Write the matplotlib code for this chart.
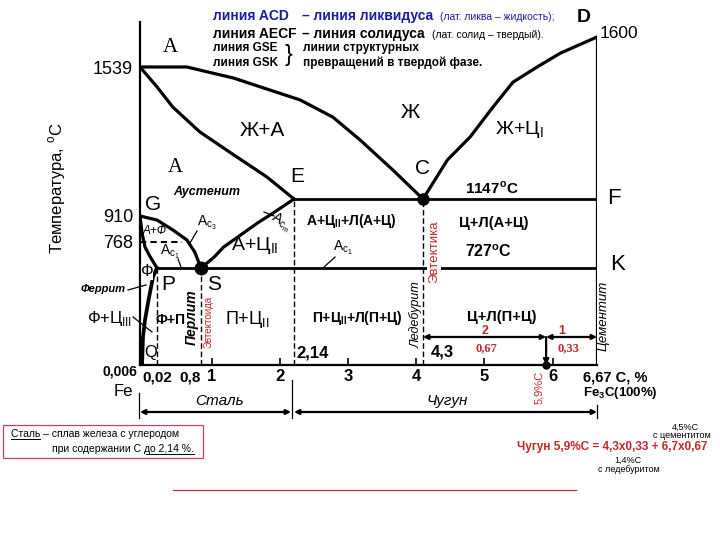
import numpy as np
import matplotlib
matplotlib.use('Agg')
import matplotlib.pyplot as plt

# Диаграмма Fe - Fe3C: содержание углерода, %  /  температура, °C
liq_AC_c = [0, 0.55, 1.32, 1.71, 2.24, 2.76, 3.18, 3.66, 4.3]
liq_AC_t = [1539, 1539, 1506, 1480, 1441, 1390, 1322, 1233, 1147]
liq_CD_c = [4.3, 4.58, 4.84, 5.13, 5.42, 5.77, 6.11, 6.67]
liq_CD_t = [1147, 1263, 1331, 1420, 1494, 1539, 1567, 1600]
sol_AE_c = [0, 0.02, 0.30, 0.78, 1.32, 1.81, 2.14]
sol_AE_t = [1539, 1480, 1420, 1346, 1278, 1212, 1147]
GS_c = [0, 0.02, 0.30, 0.55, 0.69, 0.8]
GS_t = [910, 888, 834, 779, 752, 727]
GP_c = [0, 0.0024, 0.0059, 0.0118, 0.02]
GP_t = [910, 817, 760, 745, 727]
PQ_c = [0.02, 0.0153, 0.0094, 0.0059, 0.0035, 0.0024]
PQ_t = [727, 660, 465, 337, 210, 0]
SE_c = [0.8, 1.03, 1.17, 1.42, 1.67, 1.90, 2.14]
SE_t = [727, 744, 760, 806, 872, 952, 1147]

C_P, C_S, C_E, C_C, C_K = 0.02, 0.8, 2.14, 4.3, 6.67
T_D, T_ECF, T_PSK, T_G, T_curie = 1600, 1147, 727, 910, 768
C_curie_end = 0.46
C_alloy = 5.9            # чугун 5,9 %C
T_lever = 210            # уровень отрезков рычага

x_ticks = [1, 2, 3, 4, 5, 6]
x_minor = [0.02, 0.8]
x_minor_lbl = ['0,02', '0,8']
y_ticks = [1539, 910, 768]

NARROW = ['Liberation Sans Narrow', 'Liberation Sans', 'DejaVu Sans']
SANS = ['Liberation Sans', 'DejaVu Sans']
SERIF = ['Liberation Serif', 'DejaVu Serif']
RED = '#c0282c'
BLUE = '#1c1c9c'

# схема не в масштабе - кусочно-линейные шкалы
XC = [-10, 0, 0.02, 0.8, 1, 2, 2.14, 3, 4, 4.3, 5, 6, 6.67, 20]
XV = [-540, 140, 157, 201, 212, 280, 294, 348, 416, 423, 484, 553, 597, 1517]
YT = [-1000, 0, 727, 768, 910, 1147, 1539, 1600, 1630, 3000]
YV = [-498, -365, -268, -242, -216, -199, -67, -37, -22, 663]

fig = plt.figure(figsize=(7.2, 5.4), dpi=100)
ax = fig.add_axes([140/720, 1-365/540, 457/720, 343/540])
ax.set_xscale('function', functions=(lambda c: np.interp(c, XC, XV), lambda v: np.interp(v, XV, XC)))
ax.set_yscale('function', functions=(lambda t: np.interp(t, YT, YV), lambda v: np.interp(v, YV, YT)))
ax.set_xlim(0, C_K)
ax.set_ylim(0, 1630)
for s in ['top', 'right']:
    ax.spines[s].set_visible(False)
for s in ['left', 'bottom']:
    ax.spines[s].set_linewidth(1.6)

lw = 2.3
ax.plot(liq_AC_c, liq_AC_t, 'k', lw=lw, solid_capstyle='round')
ax.plot(liq_CD_c, liq_CD_t, 'k', lw=lw, solid_capstyle='round')
ax.plot(sol_AE_c, sol_AE_t, 'k', lw=lw)
ax.plot(GS_c, GS_t, 'k', lw=lw)
ax.plot(GP_c, GP_t, 'k', lw=lw)
ax.plot(PQ_c, PQ_t, 'k', lw=lw + 0.4)
ax.plot(SE_c, SE_t, 'k', lw=lw)
ax.plot([C_E, C_K], [T_ECF, T_ECF], 'k', lw=2)
ax.plot([C_P, C_K], [T_PSK, T_PSK], 'k', lw=2)
ax.plot([C_K, C_K], [0, T_D], 'k', lw=1.6)
ax.plot([0, C_curie_end], [T_curie, T_curie], 'k', lw=1.5, ls=(0, (3, 2)))
for c, t in [(C_P, T_PSK), (C_S, T_PSK), (C_E, T_ECF), (C_C, T_ECF)]:
    ax.plot([c, c], [0, t], 'k', lw=1, ls=(0, (4, 2)))
ax.plot([C_S], [T_PSK], 'o', color='k', ms=9)
ax.plot([C_C], [T_ECF], 'o', color='k', ms=8)

# рычаг
ap = dict(arrowstyle='<|-|>', color='k', lw=1.6, mutation_scale=7, shrinkA=0, shrinkB=0)
ax.annotate('', xy=(C_alloy, T_lever), xytext=(C_C, T_lever), arrowprops=ap, annotation_clip=False)
ax.annotate('', xy=(C_K, T_lever), xytext=(C_alloy, T_lever), arrowprops=ap, annotation_clip=False)
ax.annotate('', xy=(C_alloy, 0), xytext=(C_alloy, T_lever),
            arrowprops=dict(arrowstyle='-|>', color='k', lw=1.6, mutation_scale=8, shrinkA=0, shrinkB=0),
            annotation_clip=False)
ax.plot([C_alloy], [0], 'o', color='k', ms=5, clip_on=False)
ax.text(C_alloy, 0, '5,9%C', rotation=90, color=RED, fontsize=8, family=SANS,
        ha='center', va='top', transform=ax.transData + matplotlib.transforms.ScaledTranslation(-5/72, -4/72, fig.dpi_scale_trans))

ax.set_xticks(x_ticks)
ax.set_xticklabels([str(v) for v in x_ticks])
ax.set_xticks(x_minor, minor=True)
ax.set_xticklabels(x_minor_lbl, minor=True)
ax.tick_params(axis='x', which='major', direction='in', length=5, width=1.2, pad=3)
ax.tick_params(axis='x', which='minor', length=0, pad=4)
for lab in ax.get_xticklabels(which='both'):
    lab.set_fontfamily(NARROW)
    lab.set_fontweight('bold')
    lab.set_fontsize(12)
for lab in ax.get_xticklabels(minor=True):
    lab.set_fontsize(11)
ax.get_xticklabels(minor=True)[1].set_horizontalalignment('right')
ax.set_yticks(y_ticks)
ax.set_yticklabels([str(v) for v in y_ticks])
ax.tick_params(axis='y', length=0, pad=5)
for lab in ax.get_yticklabels():
    lab.set_fontfamily(NARROW)
    lab.set_fontsize(13)

# надписи в пикселях
ov = fig.add_axes([0, 0, 1, 1], zorder=5)
ov.set_xlim(0, 720)
ov.set_ylim(540, 0)
ov.axis('off')
ov.patch.set_alpha(0)


def t(x, y, s, size=14, fam=NARROW, ha='center', **kw):
    return ov.text(x, y, s, fontsize=size, family=fam, ha=ha, va='center', **kw)


# шапка
t(213, 16, 'линия ACD', 10, SANS, 'left', weight='bold', color=BLUE)
t(302, 16, '– линия ликвидуса', 10, SANS, 'left', weight='bold', color=BLUE)
t(440, 17, '(лат. ликва – жидкость);', 7.5, SANS, 'left', color=BLUE)
t(213, 34, 'линия AECF', 10, SANS, 'left', weight='bold')
t(302, 34, '– линия солидуса', 10, SANS, 'left', weight='bold')
t(432, 35, '(лат. солид – твердый).', 7.5, SANS, 'left')
t(213, 48, 'линия GSE', 8.5, SANS, 'left', weight='bold')
t(213, 63, 'линия GSK', 8.5, SANS, 'left', weight='bold')
t(289, 55, '}', 17, SANS)
t(303, 48, 'линии структурных', 8.5, SANS, 'left', weight='bold')
t(303, 63, 'превращений в твердой фазе.', 8.5, SANS, 'left', weight='bold')
t(584, 18, 'D', 14, SANS, weight='bold')
t(600, 33, '1600', 12.5, ha='left')

# области
t(170, 48, 'A', 15, SERIF)
t(262, 131, 'Ж+А', 15)
t(410, 112, 'Ж', 15)
t(519, 130, 'Ж+Ц$_\\mathregular{I}$', 14)
t(423, 168, 'C', 15)
t(492, 188, '1147$^\\mathregular{o}$C', 11, weight='bold')
t(175, 167, 'A', 15, SERIF)
t(297, 176, 'E', 15)
t(207, 192, 'Аустенит', 9, SANS, weight='bold', style='italic')
t(153, 204, 'G', 15)
t(155, 231, 'А+Ф', 8.5, SANS, style='italic')
t(207, 223, 'A$_\\mathregular{c_3}$', 10)
t(170, 252, 'A$_\\mathregular{c_1}$', 10)
t(281, 223, 'A$_\\mathregular{c_m}$', 10, rotation=-30)
t(343, 248, 'A$_\\mathregular{c_1}$', 10)
t(255, 246, 'А+Ц$_\\mathregular{II}$', 14)
t(147, 272, 'Ф', 12, bbox=dict(fc='white', ec='none', pad=0))
t(168, 285, 'P', 15)
t(214, 284, 'S', 15)
t(103, 289, 'Феррит', 8, SANS, weight='bold', style='italic')
t(110, 318, 'Ф+Ц$_\\mathregular{III}$', 12)
t(171, 320, 'Ф+П', 10, weight='bold')
t(192, 317, 'Перлит', 10, SANS, weight='bold', style='italic', rotation=90)
t(209, 322, 'Эвтектоида', 7, SANS, color=RED, rotation=90)
t(247, 319, 'П+Ц$_\\mathregular{II}$', 13)
t(151, 353, 'Q', 12)
t(313, 353, '2,14', 12, weight='bold')
t(351, 221, 'А+Ц$_\\mathregular{II}$+Л(А+Ц)', 10, weight='bold')
t(494, 223, 'Ц+Л(А+Ц)', 10.5, weight='bold')
t(488, 252, '727$^\\mathregular{o}$C', 11.5, weight='bold')
t(614, 199, 'F', 16)
t(618, 264, 'K', 16)
t(434, 252, 'Эвтектика', 9.5, SANS, color=RED, rotation=90,
  bbox=dict(fc='white', ec='none', pad=1))
t(416, 315, 'Ледебурит', 9, SANS, style='italic', rotation=90)
t(357, 318, 'П+Ц$_\\mathregular{II}$+Л(П+Ц)', 10, weight='bold')
t(502, 317, 'Ц+Л(П+Ц)', 10.5, weight='bold')
t(604, 316, 'Цементит', 9.5, SANS, style='italic', rotation=90)
t(485, 331, '2', 9, SANS, weight='bold', color=RED)
t(562, 331, '1', 9, SANS, weight='bold', color=RED)
t(486, 348, '0,67', 9, SERIF, weight='bold', color=RED)
t(568, 348, '0,33', 9, SERIF, weight='bold', color=RED)
t(442, 352, '4,3', 12, weight='bold')

# указатели
for x0, y0, x1, y1 in [(197, 231, 190, 243), (274, 216, 264, 212), (178, 259, 181, 267),
                       (335, 257, 324, 267), (128, 290, 146, 285), (133, 317, 152, 332)]:
    ov.plot([x0, x1], [y0, y1], 'k', lw=0.9)

# под осью
t(120, 371, '0,006', 10, weight='bold')
t(123, 391, 'Fe', 12)
t(583, 378, '6,67 C, %', 10.5, ha='left', weight='bold')
t(583, 393, 'Fe$_\\mathregular{3}$C(100%)', 9.5, ha='left', weight='bold')
t(219, 401, 'Сталь', 11, SANS, style='italic')
t(447, 401, 'Чугун', 11, SANS, style='italic')
hp = dict(arrowstyle='<|-|>', color='k', lw=1.6, mutation_scale=7, shrinkA=0, shrinkB=0)
ov.annotate('', xy=(291, 412), xytext=(140, 412), arrowprops=hp)
ov.annotate('', xy=(597, 412), xytext=(294, 412), arrowprops=hp)
ov.plot([139, 139], [393, 418], 'k', lw=0.9)
ov.plot([292, 292], [380, 418], 'k', lw=0.9)
ov.plot([597, 597], [405, 418], 'k', lw=0.9)

# определение стали
ov.add_patch(plt.Rectangle((3, 425), 200, 33, fill=False, ec='#c04060', lw=0.9))
t(11, 434, 'Сталь – сплав железа с углеродом', 7.5, SANS, 'left')
t(52, 449, 'при содержании С до 2,14 %.', 7.5, SANS, 'left')
ov.plot([11, 40], [439, 439], 'k', lw=0.7)
ov.plot([146, 194], [454, 454], 'k', lw=0.7)

# формула
t(685, 427, '4,5%С', 6.5, SANS)
t(682, 435, 'с цементитом', 6.5, SANS)
t(612, 447, 'Чугун 5,9%С = 4,3х0,33 + 6,7х0,67', 8.5, SANS, weight='bold', color=RED)
t(628, 460, '1,4%С', 6.5, SANS)
t(629, 469, 'с ледебуритом', 6.5, SANS)
ov.plot([173, 576], [490, 490], color='#c8283c', lw=0.9)

fig.text(57/720, 1-188/540, 'Температура, $^\\mathregular{o}$С', rotation=90, fontsize=12,
         family=SANS, ha='center', va='center')

fig.savefig('out.png', dpi=100)
